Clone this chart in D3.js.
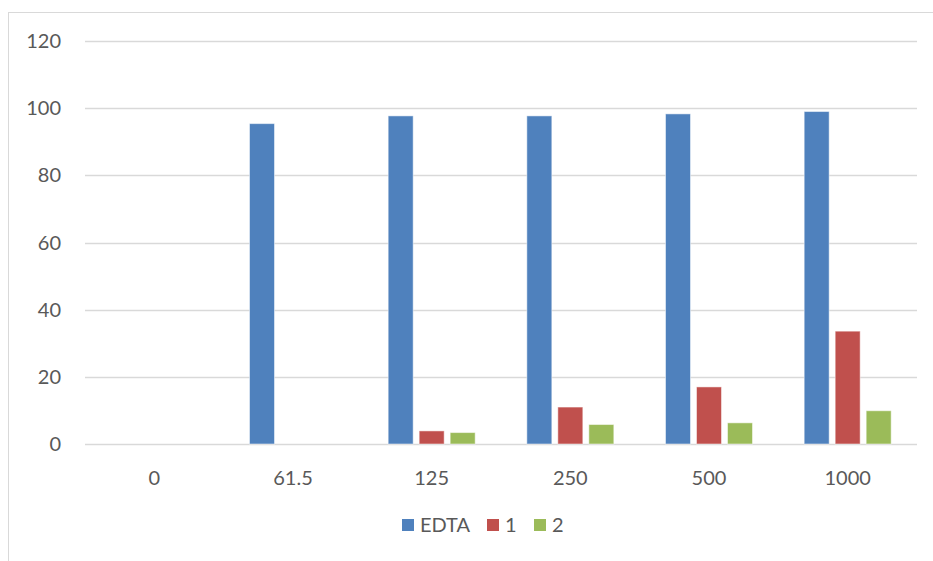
<!DOCTYPE html>
<html><head><meta charset="utf-8">
<script src="https://cdn.jsdelivr.net/npm/d3@7"></script>
<style>body{margin:0;background:#fff}svg{display:block}</style>
</head><body>
<svg id="c" width="933" height="561"></svg>
<script>
const categories = ["0","61.5","125","250","500","1000"];
const seriesNames = ["EDTA","1","2"];
const edta = [0, 95.4, 97.7, 97.7, 98.3, 99.0];
const s1 = [0, 0, 3.9, 11.0, 17.0, 33.6];
const s2 = [0, 0, 3.4, 5.8, 6.3, 9.9];
const yTicks = [0,20,40,60,80,100,120];
const colors = ["#4F81BD","#C0504D","#9BBB59"];

const series = [edta, s1, s2];
const svg = d3.select("#c");
const font = "Lato, 'Open Sans', sans-serif";
const textColor = "#595959";

// frame
svg.append("rect").attr("x",8.5).attr("y",12.5).attr("width",940).attr("height",560)
  .attr("fill","none").attr("stroke","#d9d9d9").attr("stroke-width",1);

const pLeft = 85, pRight = 917, pTop = 41, pBottom = 444;
const x = d3.scaleBand().domain(categories).range([pLeft,pRight]);
const y = d3.scaleLinear().domain([0,120]).range([pBottom,pTop]);

// gridlines
svg.append("g").selectAll("line").data(yTicks).join("line")
  .attr("x1",pLeft).attr("x2",pRight)
  .attr("y1",d=>Math.round(y(d))+0.5).attr("y2",d=>Math.round(y(d))+0.5)
  .attr("stroke","#d9d9d9").attr("stroke-width",1.5);

// y labels
svg.append("g").selectAll("text").data(yTicks).join("text")
  .attr("x",61).attr("y",d=>y(d)).attr("dy","0.35em")
  .attr("text-anchor","end").attr("font-family",font).attr("font-size",20)
  .attr("fill",textColor).text(d=>d);

// bars
const bw = 25, gap = 6;
const groupW = 3*bw + 2*gap;
series.forEach((vals, si) => {
  svg.append("g").selectAll("rect").data(vals.map((v,i)=>({v,c:categories[i]})).filter(d=>d.v>0)).join("rect")
    .attr("x",d=>x(d.c)+x.bandwidth()/2 - groupW/2 + si*(bw+gap))
    .attr("width",bw)
    .attr("y",d=>y(d.v)).attr("height",d=>y(0)-y(d.v))
    .attr("fill",colors[si]).attr("stroke","rgba(255,255,255,0.5)").attr("stroke-width",1);
});

// x labels
svg.append("g").selectAll("text").data(categories).join("text")
  .attr("x",d=>x(d)+x.bandwidth()/2).attr("y",478).attr("dy","0.35em")
  .attr("text-anchor","middle").attr("font-family",font).attr("font-size",20)
  .attr("fill",textColor).text(d=>d);

// legend
const legendItems = [{n:seriesNames[0],x:402},{n:seriesNames[1],x:487},{n:seriesNames[2],x:534}];
const lg = svg.append("g");
legendItems.forEach((it,i)=>{
  lg.append("rect").attr("x",it.x).attr("y",519).attr("width",12).attr("height",12).attr("fill",colors[i]);
  lg.append("text").attr("x",it.x+18).attr("y",532).attr("font-family",font).attr("font-size",20)
    .attr("fill",textColor).text(it.n);
});
</script>
</body></html>
